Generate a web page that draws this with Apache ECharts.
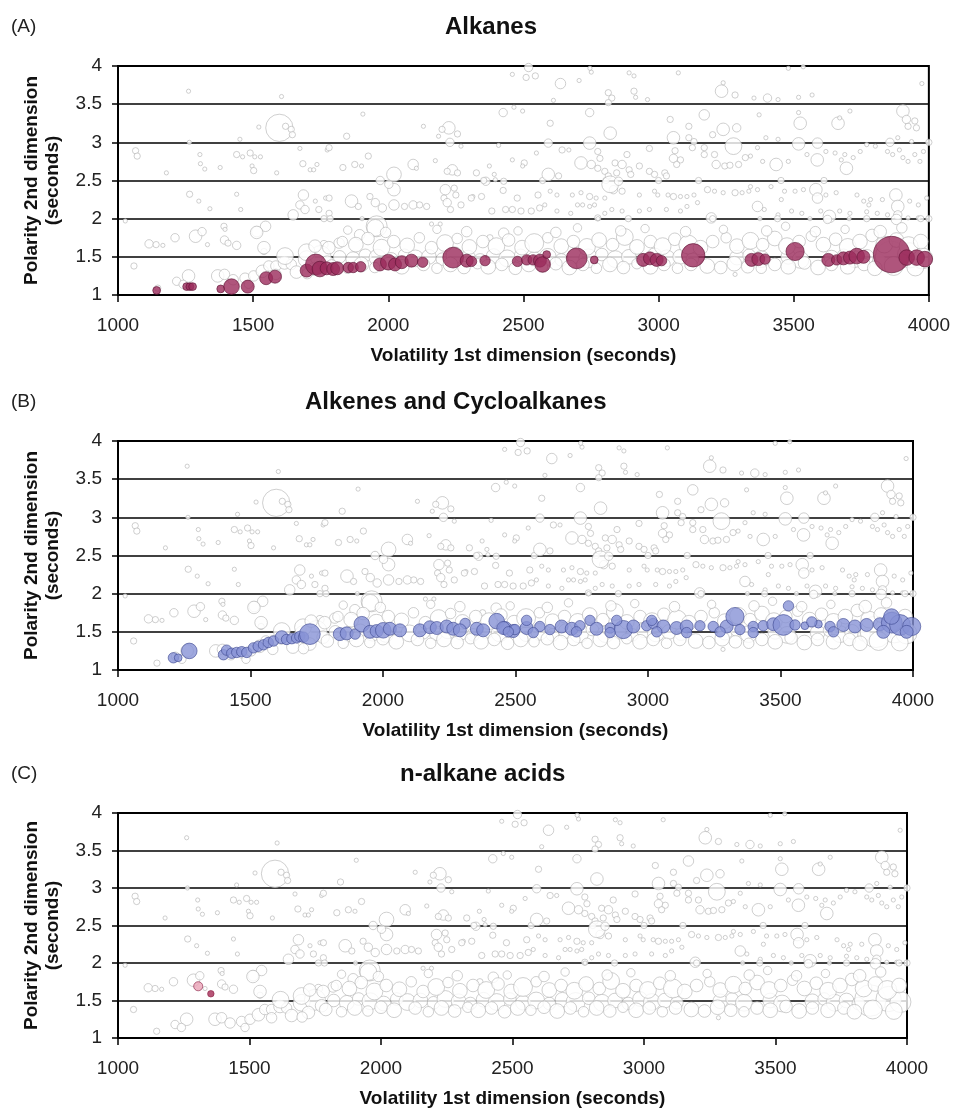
<!DOCTYPE html>
<html lang="en">
<head>
  <meta charset="UTF-8">
  <title>GCxGC bubble plots</title>
  <style>
    html, body { margin: 0; padding: 0; background: #fff; }
    #main { width: 953px; height: 1109px; }
  </style>
</head>
<body>
  <div id="main"></div>
<script src="https://cdn.jsdelivr.net/npm/echarts@6/dist/echarts.min.js"></script>
<script>
  var myChart = echarts.init(document.getElementById('main'));

  // all compounds, [1st dim (s), 2nd dim (s), peak size]
  var allPeaks = [
    // upper region
    [1261,3.67,2],[1605,3.6,2],[1597,3.19,13],[1620,3.21,3],[1641,3.17,3],[1645,3.1,3],[1521,3.2,2],
    [1451,3.04,2],[1264,3.0,2],[1065,2.89,3],[1071,2.82,3],[1303,2.84,2],[1305,2.72,2],[1321,2.65,2],
    [1378,2.67,2],[1439,2.84,3],[1461,2.81,2],[1489,2.86,3],[1506,2.81,2],[1527,2.81,2],[1496,2.69,2],
    [1502,2.63,3],[1179,2.6,2],[1587,2.6,2],[1684,2.72,3],[1711,2.64,2],[1736,2.71,2],[1724,2.64,2],
    [1673,2.92,2],[1774,2.9,2],[1906,3.37,2],[2130,3.21,2],[2224,3.19,6],[2199,3.17,3],[2256,3.11,3],
    [2186,3.08,2],[1846,3.08,3],[2269,2.95,2],[2408,2.96,2],[1781,2.93,3],[2548,2.86,2],
    [2459,3.89,2],[2510,3.85,3],[2544,3.87,3],[2519,3.98,4],[2425,3.39,4],[2465,3.46,2],[2497,3.41,2],
    [2751,3.92,2],[2746,3.97,2],[2891,3.91,2],[2909,3.87,2],[3073,3.91,2],[3480,3.97,2],[3535,3.99,2],
    [2637,3.77,5],[2706,3.81,2],[2611,3.55,2],[2814,3.65,3],[2827,3.58,3],[2814,3.52,3],[2909,3.67,3],
    [2915,3.59,2],[2959,3.56,2],[3233,3.67,6],[3283,3.62,3],[3239,3.78,2],[2745,3.39,4],[2599,3.25,3],
    [3169,3.36,5],[3043,3.3,3],[3239,3.17,6],[3289,3.19,4],[3112,3.21,3],[3200,3.1,3],[2821,3.12,6],
    [2745,2.99,6],[2592,2.99,4],[3055,3.06,6],[3112,3.06,3],[3131,3.01,3],[3277,2.95,8],[2228,3.0,4],
    [3974,3.77,2],[3403,3.58,4],[3442,3.56,2],[3353,3.58,2],[3518,3.59,2],[3568,3.62,2],[3524,3.25,6],
    [3518,3.39,2],[3664,3.25,6],[3708,3.41,2],[3670,3.32,2],[3372,3.36,2],[3904,3.41,6],[3917,3.3,4],
    [3923,3.21,3],[3954,3.19,3],[3948,3.28,3],[3518,2.98,6],[3588,2.99,5],[3856,3.0,4],[4000,3.0,3],
    // 2.5 - 3.0
    [1876,2.71,3],[1832,2.67,3],[1901,2.69,2],[1926,2.82,3],[2092,2.71,5],[2104,2.66,2],[2174,2.76,2],
    [2237,2.64,5],[2256,2.6,3],[2218,2.62,3],[2326,2.6,3],[2374,2.69,2],[2459,2.77,2],[2503,2.73,3],
    [2497,2.69,2],[2392,2.58,2],[2396,2.51,2],[1970,2.5,4],[2021,2.58,7],[2021,2.38,6],[2002,2.45,4],
    [2361,2.49,4],[2427,2.49,3],[2353,2.5,3],[2571,2.5,3],[2805,2.5,3],[3000,2.5,3],[3148,2.5,3],
    [3453,2.5,3],[3612,2.5,3],
    [2643,2.9,3],[2668,2.9,2],[2775,2.88,3],[2783,2.79,3],[2883,2.84,3],[2966,2.92,3],[3061,2.89,3],
    [3055,2.79,4],[3081,2.77,3],[3067,2.71,3],[3125,2.93,3],[3169,2.93,3],[3169,2.84,3],[3207,2.84,3],
    [3213,2.71,4],[3245,2.69,3],[3264,2.7,3],[3296,2.71,3],[3321,2.8,3],[2713,2.73,6],[2751,2.71,4],
    [2775,2.66,3],[2801,2.62,3],[2839,2.73,3],[2865,2.71,4],[2891,2.64,3],[2897,2.58,3],[2929,2.69,3],
    [2845,2.6,3],[2814,2.56,3],[2592,2.58,6],[2630,2.56,3],[2966,2.62,3],[2985,2.58,3],[3023,2.6,3],
    [3029,2.56,3],[3397,3.06,2],[3442,3.04,2],[3366,2.93,2],[3340,2.82,2],[3385,2.75,2],[3435,2.71,6],
    [3480,2.75,2],[3549,2.84,2],[3587,2.77,6],[3619,2.88,2],[3653,2.86,2],[3676,2.77,2],[3695,2.66,6],
    [3689,2.84,2],[3720,2.8,2],[3746,2.88,2],[3770,2.97,2],[3802,2.95,2],[3847,2.88,2],[3866,2.84,2],
    [3891,2.9,2],[3904,2.8,2],[3923,2.75,2],[3948,2.84,2],[3967,2.75,2],[3980,2.88,2],[3885,3.06,2],
    [3936,3.01,2],
    // 2.0 - 2.5
    [1265,2.32,3],[1299,2.23,2],[1340,2.13,2],[1439,2.32,2],[1454,2.12,2],[1027,1.97,2],[1686,2.31,5],
    [1673,2.18,4],[1692,2.12,4],[1648,2.05,5],[1730,2.23,2],[1768,2.27,2],[1743,2.12,3],[1781,2.07,3],
    [1762,2.0,3],[2211,2.38,5],[2244,2.4,3],[2250,2.31,3],[2206,2.27,3],[2313,2.29,2],[2425,2.37,3],
    [2477,2.27,3],[2554,2.31,3],[1781,2.27,3],[1864,2.23,6],[1889,2.16,3],[1932,2.29,3],[1952,2.21,4],
    [1978,2.14,4],[2021,2.18,5],[2060,2.16,3],[2092,2.18,4],[2116,2.18,3],[2142,2.16,3],[2218,2.21,4],
    [2230,2.12,3],[2269,2.18,3],[2307,2.27,3],[2345,2.29,3],[2383,2.1,3],[2434,2.12,3],[2459,2.12,3],
    [2491,2.1,3],[2529,2.1,3],[2560,2.14,3],
    [2599,2.36,2],[2624,2.31,2],[2579,2.18,2],[2681,2.31,2],[2700,2.18,2],[2713,2.34,2],[2745,2.29,3],
    [2769,2.27,2],[2801,2.27,2],[2719,2.18,2],[2745,2.16,2],[2763,2.18,2],[2865,2.36,3],[2929,2.31,2],
    [2985,2.36,2],[2997,2.31,2],[3035,2.31,2],[3055,2.29,3],[3081,2.29,2],[3105,2.29,2],[3105,2.16,2],
    [3131,2.31,2],[3181,2.38,3],[3207,2.36,2],[3239,2.34,2],[3283,2.34,3],[3309,2.34,2],[3334,2.36,2],
    [2966,2.12,2],[2929,2.1,2],[2865,2.1,2],[2827,2.12,2],[2801,2.07,2],[2675,2.07,2],[2624,2.1,2],
    [3029,2.12,2],[3081,2.1,2],[3144,2.21,2],[3195,2.01,5],[2775,2.01,3],[2833,2.38,4],[2821,2.45,8],
    [2852,2.49,4],
    [3340,2.42,2],[3366,2.38,2],[3416,2.42,2],[3466,2.36,2],[3454,2.25,2],[3505,2.36,2],[3536,2.38,2],
    [3582,2.38,6],[3588,2.27,5],[3619,2.31,2],[3657,2.34,2],[3734,2.31,2],[3759,2.23,2],[3784,2.25,2],
    [3778,2.18,2],[3828,2.25,2],[3878,2.31,6],[3885,2.16,6],[3885,2.05,4],[3929,2.23,2],[3961,2.18,2],
    [3992,2.27,2],[3366,2.16,5],[3391,2.12,2],[3442,2.05,2],[3492,2.1,2],[3530,2.07,2],[3600,2.1,2],
    [3632,2.03,6],[3670,2.1,2],[3708,2.07,2],[3770,2.09,2],[3809,2.07,2],[3847,2.05,2],[3923,2.01,2],
    [3961,2.01,2],[4000,2.0,3],
    // around the 2 s line
    [1785,2.0,3],[1903,2.0,2],[1957,1.9,10],[2160,1.93,2],[2192,1.93,2],[2776,2.0,2],[2888,2.0,3],
    [3200,2.0,3],[3375,2.0,2],[3440,2.0,3],[3560,2.0,2],[3625,1.99,4],[3705,2.0,2],[3770,2.0,3],
    [3880,1.99,5],[3970,2.0,3],[1952,1.88,8],[1894,1.79,5],[1818,1.68,5],[2427,1.81,5],[2376,1.75,3],
    // lower left
    [1546,1.9,5],[1514,1.83,5],[1392,1.9,3],[1396,1.86,2],[1287,1.77,6],[1311,1.83,4],[1211,1.75,4],
    [1115,1.67,4],[1141,1.66,3],[1166,1.65,2],[1394,1.72,4],[1407,1.68,3],[1439,1.65,4],[1331,1.66,2],
    [1540,1.57,3],[1762,1.66,4],[1059,1.38,3],[1147,1.09,3],[1217,1.18,4],[1261,1.25,6],[1241,1.14,4],
    [1369,1.25,6],[1394,1.27,5],[1426,1.2,5],[1470,1.22,5],[1502,1.25,5],[1483,1.14,4],[1534,1.31,6],
    [1558,1.38,5],[1584,1.38,5],[1584,1.27,5],[1616,1.42,6],[1641,1.4,5],[1698,1.47,8],[1749,1.51,10],
    [1774,1.43,6],[1724,1.34,6],[1618,1.51,8],[1698,1.56,8],[1729,1.64,6],[1660,1.3,6],[1700,1.28,5],
    [1540,1.62,6],[1513,1.82,6],
    // main band, 1.3 - 1.9 s
    [1820,1.5,6],[1870,1.47,7],[1915,1.52,6],[1960,1.49,8],[2010,1.46,7],[2060,1.52,6],[2100,1.48,8],
    [2150,1.5,7],[2200,1.47,6],[2245,1.52,8],[2295,1.49,7],[2340,1.46,6],[2390,1.51,7],[2440,1.48,8],
    [2490,1.52,6],[2540,1.47,7],[2590,1.5,8],[2640,1.46,6],[2690,1.51,7],[2740,1.48,9],[2790,1.53,6],
    [2840,1.47,8],[2890,1.5,7],[2940,1.46,6],[2985,1.52,7],[3030,1.48,8],[3080,1.5,7],[3125,1.47,6],
    [3290,1.49,7],[3335,1.52,6],[3380,1.47,8],[3480,1.5,7],[3525,1.46,8],[3640,1.49,7],[3685,1.52,6],
    [3725,1.47,8],[3770,1.5,7],[3815,1.46,6],[3860,1.5,15],[3930,1.52,12],[3975,1.48,10],
    [1780,1.62,6],[1830,1.7,5],[1880,1.66,7],[1925,1.74,6],[1975,1.62,8],[2020,1.7,6],[2070,1.65,7],
    [2115,1.75,5],[2160,1.62,6],[2210,1.68,8],[2255,1.74,5],[2300,1.63,7],[2350,1.7,6],[2400,1.64,8],
    [2445,1.72,6],[2495,1.62,7],[2540,1.68,9],[2590,1.75,5],[2640,1.64,7],[2685,1.7,6],[2735,1.63,8],
    [2780,1.72,7],[2830,1.66,6],[2875,1.76,8],[2920,1.63,7],[2970,1.7,6],[3015,1.64,8],[3060,1.73,6],
    [3110,1.66,9],[3155,1.62,7],[3200,1.7,6],[3250,1.75,5],[3290,1.64,7],[3340,1.71,8],[3385,1.66,6],
    [3430,1.74,7],[3475,1.64,8],[3520,1.7,6],[3565,1.77,5],[3610,1.66,7],[3655,1.73,6],[3700,1.63,8],
    [3745,1.7,7],[3790,1.78,6],[3835,1.66,8],[3880,1.72,7],[3925,1.64,9],[3970,1.7,7],
    [1850,1.85,4],[1990,1.82,5],[2180,1.86,4],[2290,1.83,5],[2480,1.84,4],[2620,1.82,5],[2700,1.88,4],
    [2860,1.84,5],[2950,1.87,4],[3100,1.83,5],[3240,1.86,4],[3400,1.84,5],[3470,1.9,4],[3580,1.83,5],
    [3690,1.86,4],[3820,1.83,6],[3900,1.88,5],
    [1790,1.38,6],[1850,1.35,5],[1900,1.4,7],[1950,1.36,5],[2000,1.41,6],[2050,1.37,7],[2130,1.4,6],
    [2180,1.35,5],[2230,1.4,7],[2280,1.36,6],[2330,1.41,5],[2370,1.37,7],[2420,1.4,6],[2470,1.35,6],
    [2520,1.4,7],[2570,1.37,5],[2620,1.41,6],[2670,1.36,7],[2720,1.4,6],[2770,1.35,5],[2820,1.4,7],
    [2870,1.36,6],[2920,1.41,5],[2970,1.37,7],[3020,1.4,6],[3070,1.35,5],[3120,1.4,6],[3180,1.38,7],
    [3230,1.36,6],[3280,1.41,7],[3330,1.37,6],[3380,1.35,5],[3430,1.4,6],[3480,1.37,7],[3540,1.42,6],
    [3590,1.36,7],[3640,1.4,6],[3700,1.37,7],[3760,1.4,6],[3800,1.35,7],[3870,1.38,9],[3950,1.36,8],
    [3283,1.27,2]
  ];

  // (A) alkanes
  var alkanes = [
    [1143,1.06,3],[1254,1.11,3],[1266,1.11,3],[1276,1.11,3],[1380,1.08,3],[1420,1.11,6],[1480,1.11,5],
    [1548,1.22,5],[1581,1.24,5],[1698,1.32,5],[1732,1.4,8],[1747,1.34,6],[1772,1.35,5],[1796,1.34,5],
    [1811,1.35,5],[1852,1.36,4],[1870,1.36,4],[1898,1.37,4],[1969,1.4,5],[2000,1.43,6],[2025,1.4,5],
    [2050,1.43,5],[2086,1.45,5],[2127,1.43,4],[2240,1.49,8],[2290,1.45,5],[2308,1.44,4],[2358,1.45,4],
    [2478,1.44,4],[2512,1.46,4],[2536,1.46,4],[2561,1.45,5],[2571,1.4,6],[2586,1.53,3],[2697,1.48,8],
    [2762,1.46,3],[2943,1.46,5],[2968,1.48,5],[2993,1.46,5],[3011,1.45,4],[3128,1.52,9],[3344,1.46,5],
    [3369,1.47,5],[3394,1.47,4],[3505,1.57,7],[3628,1.46,5],[3659,1.46,4],[3684,1.48,5],[3708,1.49,5],
    [3733,1.51,6],[3758,1.5,5],[3862,1.53,14],[3918,1.49,6],[3955,1.49,6],[3985,1.47,6]
  ];

  // (B) alkenes and cycloalkanes
  var alkenes = [
    [1209,1.16,4],[1227,1.16,3],[1269,1.25,6],[1398,1.2,4],[1410,1.26,4],[1429,1.22,4],[1448,1.23,4],
    [1467,1.24,4],[1486,1.23,4],[1511,1.29,4],[1529,1.31,4],[1549,1.33,4],[1567,1.36,4],[1587,1.38,4],
    [1618,1.43,5],[1636,1.4,4],[1656,1.41,4],[1674,1.42,4],[1686,1.44,4],[1700,1.43,4],[1724,1.47,8],
    [1837,1.47,5],[1863,1.48,5],[1895,1.47,4],[1920,1.6,6],[1951,1.5,5],[1976,1.51,5],[2001,1.52,6],
    [2026,1.54,5],[2064,1.52,5],[2139,1.52,5],[2177,1.56,5],[2203,1.55,5],[2240,1.57,5],[2265,1.54,5],
    [2310,1.61,4],[2290,1.52,5],[2354,1.54,5],[2378,1.52,5],[2429,1.64,6],[2461,1.55,5],[2491,1.51,5],
    [2454,1.55,5],[2498,1.53,4],[2542,1.55,5],[2592,1.57,4],[2630,1.53,4],[2674,1.57,5],[2712,1.54,5],
    [2743,1.58,4],[2781,1.65,4],[2806,1.54,5],[2857,1.55,4],[2907,1.53,7],[2945,1.57,5],[2995,1.58,4],
    [3020,1.61,4],[3058,1.57,5],[3108,1.55,5],[3146,1.57,5],[3196,1.58,4],[3246,1.57,4],[3297,1.57,5],
    [3328,1.7,7],[3347,1.53,4],[3397,1.57,4],[3435,1.58,4],[3473,1.6,5],[3511,1.59,8],[3530,1.84,4],
    [3555,1.59,4],[3592,1.58,3],[3643,1.6,3],[3687,1.57,4],[3737,1.59,5],[3781,1.57,5],[3825,1.59,5],
    [3875,1.6,5],[3920,1.62,8],[3951,1.59,8],[3995,1.57,7],
    [2473,1.5,4],[2567,1.49,4],[2730,1.5,4],[2857,1.49,4],[3033,1.5,4],[3146,1.49,4],[3272,1.5,4],
    [3397,1.49,4],[3700,1.5,4],[3888,1.5,5],[3976,1.5,5],[2542,1.65,4],[2882,1.65,4],[3014,1.65,4],
    [3618,1.63,4],[3919,1.7,6]
  ];

  // (C) n-alkane acids
  var acids = [[1305,1.69,3.5],[1353,1.59,2.5]];

  var panels = [
    {tag: '(A)', title: 'Alkanes', titleLeft: 440, top: 66, width: 811, data: alkanes,
     fill: '#9b2a5b', border: '#5f1535'},
    {tag: '(B)', title: 'Alkenes and Cycloalkanes', titleLeft: 300, top: 441, width: 795, data: alkenes,
     fill: '#8792d6', border: '#3f4a92'},
    {tag: '(C)', title: 'n-alkane acids', titleLeft: 395, top: 813, width: 789, data: acids,
     fill: ['#eaa3b6', '#a52a55'], border: '#8a2146'}
  ];
  var plotHeight = 229;

  var font = 'Arial, "Liberation Sans", Helvetica, sans-serif';
  var titles = [], grids = [], xAxes = [], yAxes = [], series = [];

  panels.forEach(function (p, i) {
    titles.push({
      text: p.title, left: p.titleLeft, top: p.top - 56,
      textStyle: {fontFamily: font, fontSize: 24, fontWeight: 'bold', color: '#111'}
    });
    titles.push({
      text: p.tag, left: 6, top: p.top - 54,
      textStyle: {fontFamily: font, fontSize: 19, fontWeight: 'normal', color: '#222'}
    });
    grids.push({
      left: 118, top: p.top, width: p.width, height: plotHeight,
      show: true, borderColor: '#000', borderWidth: 2, backgroundColor: '#fff'
    });
    xAxes.push({
      gridIndex: i, type: 'value', min: 1000, max: 4000, interval: 500,
      name: 'Volatility 1st dimension (seconds)', nameLocation: 'middle', nameGap: 51,
      nameTextStyle: {fontFamily: font, fontSize: 19, fontWeight: 'bold', color: '#111'},
      axisLine: {show: true, onZero: false, lineStyle: {color: '#000', width: 2}},
      axisTick: {show: true, length: 7, lineStyle: {color: '#000', width: 1.5}},
      axisLabel: {fontFamily: font, fontSize: 19, color: '#222', margin: 21,
                  formatter: function (v) { return String(v); }},
      splitLine: {show: false}
    });
    yAxes.push({
      gridIndex: i, type: 'value', min: 1, max: 4, interval: 0.5,
      name: 'Polarity 2nd dimension\n(seconds)', nameLocation: 'middle', nameGap: 55,
      nameTextStyle: {fontFamily: font, fontSize: 19, fontWeight: 'bold', color: '#111', lineHeight: 21},
      axisLine: {show: true, onZero: false, lineStyle: {color: '#000', width: 2}},
      axisTick: {show: true, length: 6, lineStyle: {color: '#000', width: 1.5}},
      axisLabel: {fontFamily: font, fontSize: 19, color: '#222', margin: 16},
      splitLine: {show: true, lineStyle: {color: '#000', width: 1.6}}
    });
    series.push({
      type: 'scatter', xAxisIndex: i, yAxisIndex: i, z: 3,
      data: allPeaks,
      symbolSize: function (d) { return d[2] * 2.1; },
      itemStyle: {color: '#fff', borderColor: '#b4b4b4', borderWidth: 0.8},
      emphasis: {disabled: true},
      animation: false
    });
    series.push({
      type: 'scatter', xAxisIndex: i, yAxisIndex: i, z: 4,
      data: p.data,
      symbolSize: function (d) { return d[2] * 2.6; },
      itemStyle: {
        color: Array.isArray(p.fill) ? function (q) { return p.fill[q.dataIndex]; } : p.fill,
        borderColor: p.border, borderWidth: 0.8
      },
      emphasis: {disabled: true},
      animation: false
    });
  });

  var option = {
    backgroundColor: '#fff',
    animation: false,
    title: titles,
    grid: grids,
    xAxis: xAxes,
    yAxis: yAxes,
    series: series
  };

  myChart.setOption(option);
</script>
</body>
</html>
